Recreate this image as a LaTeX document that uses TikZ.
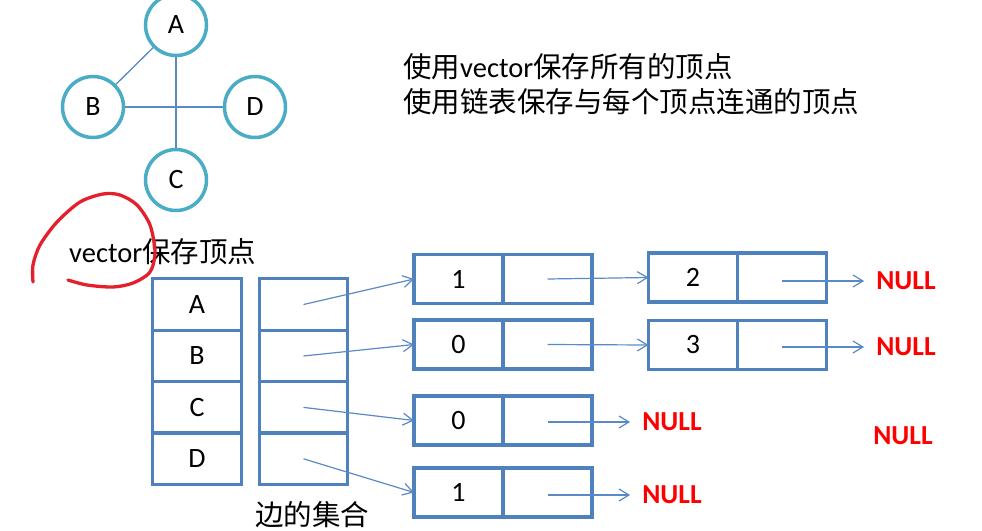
\documentclass[tikz,border=0pt]{standalone}
\usepackage{fontspec}
\setmainfont{Carlito}
\newfontfamily\zhfont{Noto Sans CJK SC}
\usepackage{xcolor}
\usepackage{tikz}
\usetikzlibrary{arrows.meta,positioning}
\definecolor{boxblue}{HTML}{4F81BD}
\definecolor{ringblue}{HTML}{4BACC6}
\definecolor{arrowblue}{HTML}{5A8AC6}
\definecolor{nullred}{HTML}{FF0000}
\definecolor{inkred}{HTML}{E4202C}
\tikzset{
  vertex/.style={circle,draw=ringblue,line width=3.5pt,minimum size=61pt,inner sep=0pt,font=\fontsize{28}{34}\selectfont},
  cell/.style={draw=boxblue,line width=3.3pt,minimum width=88.5pt,minimum height=51.4pt,inner sep=0pt,outer sep=0pt,font=\fontsize{28}{34}\selectfont},
  listnode/.style={draw=boxblue,line width=3.3pt,minimum width=89pt,minimum height=49pt,inner sep=0pt,outer sep=0pt,font=\fontsize{28}{34}\selectfont},
  nullmark/.style={text=nullred,font=\fontsize{27.5}{33}\selectfont\bfseries,inner xsep=12pt,inner ysep=0pt},
  txt/.style={font=\fontsize{28.5}{35}\selectfont,inner sep=0pt,anchor=west,align=left},
  edge/.style={draw=arrowblue,line width=1.3pt},
  ptr/.style={draw=arrowblue,line width=1.2pt,-{Straight Barb[length=10pt,width=12pt]}},
}

\begin{document}
\begin{tikzpicture}[x=1pt,y=-1pt]
  \useasboundingbox (0,0) rectangle (982,530);
  % graph
  \foreach \n/\x/\y in {A/176/25,B/93/107,C/176/180,D/255/107}{
    \node[vertex] (\n) at (\x,\y) {\n};
  }
  \draw[edge] (A) -- (B);
  \draw[edge] (A) -- (C);
  \draw[edge] (B) -- (D);

  \node[txt] (title) at (403,84) {{\zhfont 使用}vector{\zhfont 保存所有的顶点}\\{\zhfont 使用链表保存与每个顶点连通的顶点}};
  \node[txt] (vectxt) at (69,252) {vector{\zhfont 保存顶点}};
  \node[txt] (edgetxt) at (255,515) {\zhfont 边的集合};

  % vector + edge slots
  \foreach \n/\y in {A/304.5,B/356,C/407.4,D/458.8}{
    \node[cell] (v\n) at (197,\y) {\n};
    \node[cell] (e\n) at (303.5,\y) {};
  }

  % first list node of each vertex
  \foreach \n/\y/\val in {A/279/1,B/344.5/0,C/420.5/0,D/492.5/1}{
    \node[listnode] (\n1) at (458.5,\y) {\val};
    \node[listnode,right=0pt of \n1] (\n1p) {};
    \draw[ptr] (e\n.center) -- (\n1.west);
  }
  \node[listnode] (A2) at (693,277.5) {2};
  \node[listnode,right=0pt of A2] (A2p) {};
  \node[listnode] (B2) at (693,345) {3};
  \node[listnode,right=0pt of B2] (B2p) {};
  \draw[ptr] (A1p.center) -- (A2.west);
  \draw[ptr] (B1p.center) -- (B2.west);

  \node[nullmark] (nullA) at (906,281) {NULL};
  \node[nullmark] (nullB) at (906,347) {NULL};
  \node[nullmark] (nullC) at (672,422) {NULL};
  \node[nullmark] (nullD) at (672,495) {NULL};
  \node[nullmark] (nullX) at (903,436) {NULL};
  \draw[ptr] (A2p |- nullA.west) -- (nullA.west);
  \draw[ptr] (B2p |- nullB.west) -- (nullB.west);
  \draw[ptr] (C1p |- nullC.west) -- (nullC.west);
  \draw[ptr] (D1p |- nullD.west) -- (nullD.west);

  % red mark round "vector"
  \draw[inkred,line width=3.3pt,line cap=round] plot[smooth] coordinates {(33,282) (33,265) (40,245) (57,222) (80,202) (103,194) (120,195) (137,205) (150,225) (155,252) (150,272) (133,283) (113,287) (87,285) (68,280)};
\end{tikzpicture}
\end{document}
